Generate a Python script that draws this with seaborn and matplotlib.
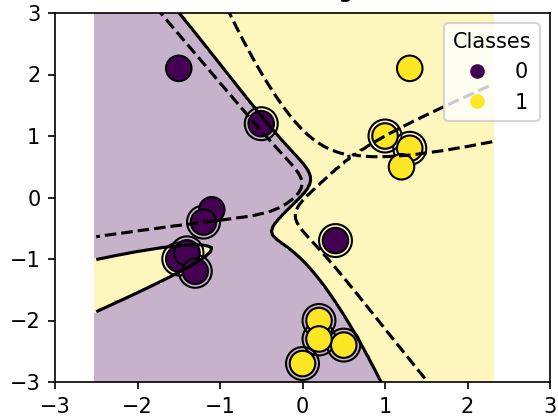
import numpy as np
import pandas as pd
import matplotlib
matplotlib.use("Agg")
import matplotlib.pyplot as plt
from matplotlib.lines import Line2D
import seaborn as sns

# training samples
x0 = [0.4, -1.5, -1.4, -1.3, -1.1, -1.2, -0.5, -1.5, 1.0, 1.3, 1.2, 0.2, 0.5, 0.2, 0.0, 1.3]
x1 = [-0.7, -1.0, -0.9, -1.2, -0.2, -0.4, 1.2, 2.1, 1.0, 0.8, 0.5, -2.0, -2.4, -2.3, -2.7, 2.1]
classes = [0, 0, 0, 0, 0, 0, 0, 0, 1, 1, 1, 1, 1, 1, 1, 1]

kernel_name = "sigmoid"
gamma = 2.0
coef0 = 0.0
C = 1.0

X = np.column_stack([x0, x1])
labels = np.array(classes)


def sigmoid_kernel(a, b):
    return np.tanh(gamma * a @ b.T + coef0)


def smo(K, yy, C=1.0, eps=1e-3, tau=1e-12):
    """
    libsvm style SMO (second order working set selection), no shrinking.
    """
    n = len(yy)
    Q = yy[:, None] * yy[None, :] * K
    QD = np.diag(Q).copy()
    alpha = np.zeros(n)
    G = -np.ones(n)
    for _ in range(200000):
        Gmax = -np.inf
        i = -1
        for t in range(n):
            if yy[t] == 1:
                if alpha[t] < C and -G[t] >= Gmax:
                    Gmax = -G[t]
                    i = t
            else:
                if alpha[t] > 0 and G[t] >= Gmax:
                    Gmax = G[t]
                    i = t
        Gmax2 = -np.inf
        j = -1
        obj_min = np.inf
        for t in range(n):
            if yy[t] == 1:
                if alpha[t] > 0:
                    gd = Gmax + G[t]
                    if G[t] >= Gmax2:
                        Gmax2 = G[t]
                    if gd > 0 and i != -1:
                        qc = QD[i] + QD[t] - 2.0 * yy[i] * Q[i, t]
                        od = -gd * gd / (qc if qc > 0 else tau)
                        if od <= obj_min:
                            j = t
                            obj_min = od
            else:
                if alpha[t] < C:
                    gd = Gmax - G[t]
                    if -G[t] >= Gmax2:
                        Gmax2 = -G[t]
                    if gd > 0 and i != -1:
                        qc = QD[i] + QD[t] + 2.0 * yy[i] * Q[i, t]
                        od = -gd * gd / (qc if qc > 0 else tau)
                        if od <= obj_min:
                            j = t
                            obj_min = od
        if Gmax + Gmax2 < eps or j == -1:
            break

        old_i, old_j = alpha[i], alpha[j]
        if yy[i] != yy[j]:
            qc = QD[i] + QD[j] + 2 * Q[i, j]
            if qc <= 0:
                qc = tau
            delta = (-G[i] - G[j]) / qc
            diff = alpha[i] - alpha[j]
            alpha[i] += delta
            alpha[j] += delta
            if diff > 0:
                if alpha[j] < 0:
                    alpha[j] = 0
                    alpha[i] = diff
            else:
                if alpha[i] < 0:
                    alpha[i] = 0
                    alpha[j] = -diff
            if diff > 0:
                if alpha[i] > C:
                    alpha[i] = C
                    alpha[j] = C - diff
            else:
                if alpha[j] > C:
                    alpha[j] = C
                    alpha[i] = C + diff
        else:
            qc = QD[i] + QD[j] - 2 * Q[i, j]
            if qc <= 0:
                qc = tau
            delta = (G[i] - G[j]) / qc
            s = alpha[i] + alpha[j]
            alpha[i] -= delta
            alpha[j] += delta
            if s > C:
                if alpha[i] > C:
                    alpha[i] = C
                    alpha[j] = s - C
            else:
                if alpha[j] < 0:
                    alpha[j] = 0
                    alpha[i] = s
            if s > C:
                if alpha[j] > C:
                    alpha[j] = C
                    alpha[i] = s - C
            else:
                if alpha[i] < 0:
                    alpha[i] = 0
                    alpha[j] = s
        G += Q[i] * (alpha[i] - old_i) + Q[j] * (alpha[j] - old_j)

    # rho
    ub, lb, sum_free, nr_free = np.inf, -np.inf, 0.0, 0
    for t in range(n):
        yG = yy[t] * G[t]
        if alpha[t] >= C:
            if yy[t] == -1:
                ub = min(ub, yG)
            else:
                lb = max(lb, yG)
        elif alpha[t] <= 0:
            if yy[t] == 1:
                ub = min(ub, yG)
            else:
                lb = max(lb, yG)
        else:
            nr_free += 1
            sum_free += yG
    rho = sum_free / nr_free if nr_free > 0 else (ub + lb) / 2
    return alpha, rho


# class 0 is the first label -> +1 inside the solver
yy = np.where(labels == 0, 1.0, -1.0)
alpha, rho = smo(sigmoid_kernel(X, X), yy, C=C)
sv_mask = alpha > 0
support_vectors = X[sv_mask]

# grid like DecisionBoundaryDisplay (eps=1, 100 points)
g0 = np.linspace(X[:, 0].min() - 1, X[:, 0].max() + 1, 100)
g1 = np.linspace(X[:, 1].min() - 1, X[:, 1].max() + 1, 100)
xx, yy_grid = np.meshgrid(g0, g1)
grid = np.column_stack([xx.ravel(), yy_grid.ravel()])
dec = sigmoid_kernel(grid, X) @ (alpha * yy) - rho
pred = np.where(dec > 0, 0, 1).reshape(xx.shape)
decision = (-dec).reshape(xx.shape)

DPI = 150
fig = plt.figure(figsize=(558 / DPI, 416 / DPI), dpi=DPI)
ax = fig.add_axes([55 / 558, 34 / 416, 495 / 558, 369 / 416])
ax.set(xlim=(-3, 3), ylim=(-3, 3))

ax.pcolormesh(xx, yy_grid, pred, cmap="viridis", alpha=0.3, shading="auto")
ax.contour(xx, yy_grid, decision, levels=[-1, 0, 1], colors=["k", "k", "k"],
           linestyles=["--", "-", "--"], linewidths=1.5)

ax.scatter(support_vectors[:, 0], support_vectors[:, 1], s=250,
           facecolors="none", edgecolors="k", linewidths=1.0)

df = pd.DataFrame({"x0": x0, "x1": x1, "Classes": classes})
cmap = plt.get_cmap("viridis")
palette = {0: cmap(0.0), 1: cmap(1.0)}
sns.scatterplot(data=df, x="x0", y="x1", hue="Classes", palette=palette,
                s=150, edgecolor="k", linewidth=1.0, legend=False, ax=ax)
ax.set_xlabel("")
ax.set_ylabel("")
ax.set_xticks(range(-3, 4))
ax.set_yticks(range(-3, 4))

handles = [Line2D([0], [0], ls="", marker="o", color=palette[c],
                  markersize=6, markeredgewidth=1.0) for c in (0, 1)]
ax.legend(handles, ["0", "1"], loc="upper right", title="Classes")
# the title sits mostly above the visible area, as in the reference crop
ax.set_title(f" Decision boundaries of {kernel_name} kernel in SVC", pad=7.5)

fig.savefig("out.png", dpi=DPI)
